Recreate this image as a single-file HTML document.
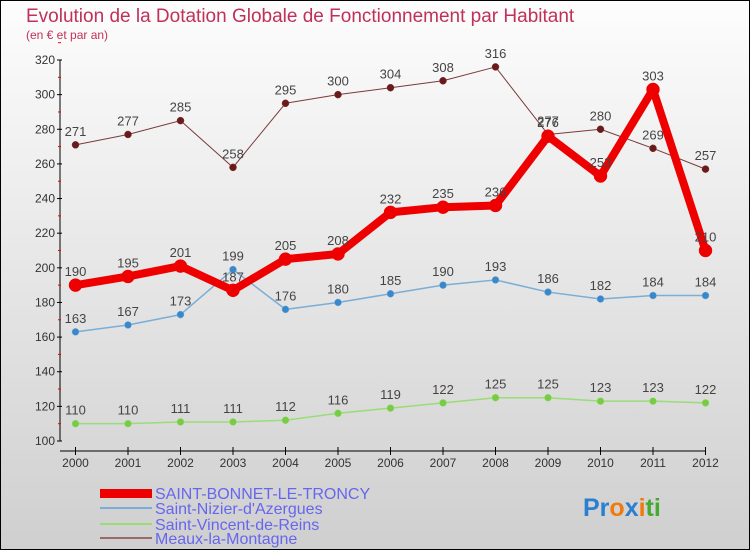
<!DOCTYPE html>
<html><head><meta charset="utf-8"><style>
body{margin:0;width:750px;height:550px;overflow:hidden;font-family:"Liberation Sans",sans-serif}
</style></head><body>
<svg width="750" height="550" font-family="Liberation Sans, sans-serif">
<defs><linearGradient id="bg" x1="0" y1="0" x2="0" y2="1"><stop offset="0" stop-color="#fdfdfd"/><stop offset="1" stop-color="#cfcfcf"/></linearGradient></defs>
<rect x="0.5" y="0.5" width="749" height="549" fill="url(#bg)" stroke="#000"/>
<text x="26" y="22" font-size="19" fill="#c0305a">Evolution de la Dotation Globale de Fonctionnement par Habitant</text>
<text x="26" y="39" font-size="12" fill="#c0305a">(en € et par an)</text>
<g id="axes"></g><g id="series"></g>
<g font-size="16" fill="#6666ee">
<rect x="100" y="489" width="52" height="9" fill="#e00"/>
<text x="155" y="499">SAINT-BONNET-LE-TRONCY</text>
<rect x="100" y="507" width="52" height="2" fill="#7aaed6"/>
<text x="155" y="514">Saint-Nizier-d'Azergues</text>
<rect x="100" y="523" width="52" height="2" fill="#99dd77"/>
<text x="155" y="530">Saint-Vincent-de-Reins</text>
<rect x="100" y="537" width="52" height="2" fill="#9a6a6a"/>
<text x="155" y="544">Meaux-la-Montagne</text>
</g>
<text x="583" y="516" font-size="25" font-weight="bold"><tspan fill="#2a7fd0">Pr</tspan><tspan fill="#f07a10">o</tspan><tspan fill="#2a7fd0">x</tspan><tspan fill="#f07a10">i</tspan><tspan fill="#44aa33">ti</tspan></text>
</svg>
<script>
const years=[2000,2001,2002,2003,2004,2005,2006,2007,2008,2009,2010,2011,2012];
const yTicks=[100,120,140,160,180,200,220,240,260,280,300,320];
const sBonnet=[190,195,201,187,205,208,232,235,236,276,253,303,210];
const sNizier=[163,167,173,199,176,180,185,190,193,186,182,184,184];
const sVincent=[110,110,111,111,112,116,119,122,125,125,123,123,122];
const sMeaux=[271,277,285,258,295,300,304,308,316,277,280,269,257];
const NS="http://www.w3.org/2000/svg";
const X=i=>75.5+i*(705.5-75.5)/12;
const Y=v=>441-(v-100)*(381/220);
function mk(t,a,p){const e=document.createElementNS(NS,t);for(const k in a)e.setAttribute(k,a[k]);p.appendChild(e);return e;}
const ax=document.getElementById('axes'),sg=document.getElementById('series');
let l=mk('line',{x1:60,y1:Y(320),x2:60,y2:441,stroke:'#000'},ax);


l=mk('line',{x1:60,y1:451,x2:706,y2:451,stroke:'#000'},ax);


yTicks.forEach(v=>{mk('line',{x1:57,y1:Y(v),x2:62,y2:Y(v),stroke:'#000'},ax);
mk('line',{x1:58,y1:Y(v+10),x2:61,y2:Y(v+10),stroke:'#e00'},ax);
const t=mk('text',{x:55,y:Y(v)+4,'text-anchor':'end','font-size':12,fill:'#333'},ax);t.textContent=v;

});
years.forEach((yr,i)=>{mk('line',{x1:X(i),y1:447,x2:X(i),y2:455,stroke:'#000'},ax);
const t=mk('text',{x:X(i),y:467,'text-anchor':'middle','font-size':12,fill:'#333'},ax);t.textContent=yr;

});
function series(d,color,w,r,dot,name){const g=mk('g',{},sg);


mk('polyline',{points:d.map((v,i)=>X(i)+','+Y(v)).join(' '),fill:'none',stroke:color,'stroke-width':w,'stroke-linejoin':'round'},g);
d.forEach((v,i)=>{mk('circle',{cx:X(i),cy:Y(v),r:r,fill:dot,stroke:color,'stroke-width':0.5},g);
const t=mk('text',{x:X(i),y:Y(v)-9,'text-anchor':'middle','font-size':13,fill:'#444'},g);t.textContent=v;});}
series(sVincent,'#99dd77',1.5,3.5,'#77cc44','series-saint-vincent');
series(sNizier,'#7aaed6',1.5,3.5,'#3a88cc','series-saint-nizier');
series(sMeaux,'#7a3a3a',1,3.5,'#6a1a1a','series-meaux');
series(sBonnet,'#ee0000',8,6.5,'#ee0000','series-saint-bonnet');
</script>
</body></html>
